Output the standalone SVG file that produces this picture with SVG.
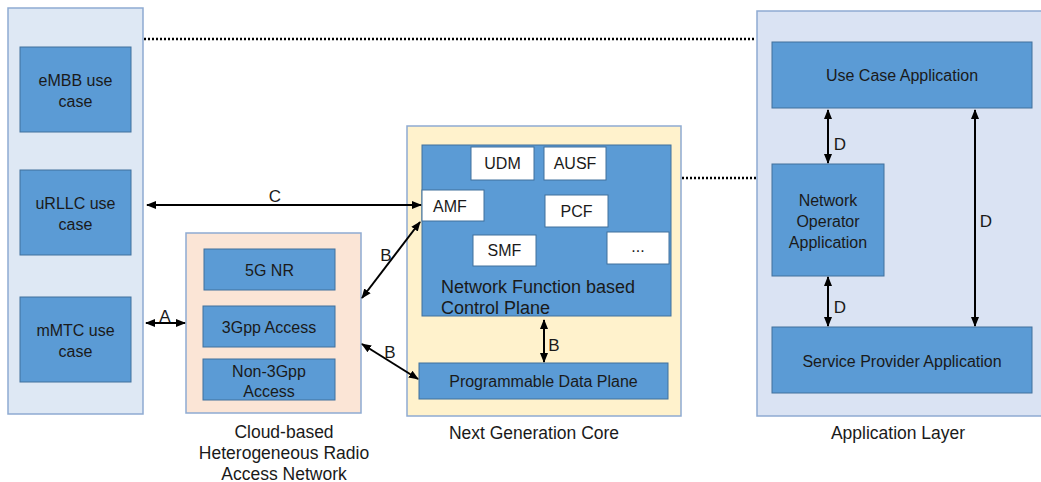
<svg xmlns="http://www.w3.org/2000/svg" width="1041" height="482" viewBox="0 0 1041 482">
<style>
text{font-family:"Liberation Sans",Arial,sans-serif;fill:#1a1a1a}
.panel{stroke:#8eaad2;stroke-width:1.5}
.box{fill:#5b9bd5;stroke:#41719c;stroke-width:1}
.wbox{fill:#ffffff;stroke:#41719c;stroke-width:1}
.bt{font-size:16px;text-anchor:middle}
.lab{font-size:17.5px;text-anchor:middle}
.ltr{font-size:17px;text-anchor:middle}
.conn{stroke:#000;stroke-width:2;fill:none;marker-start:url(#ah);marker-end:url(#ah)}
.dot{stroke:#000;stroke-width:2.5;stroke-dasharray:2 2;fill:none}
</style>
<defs>
<marker id="ah" viewBox="0 0 10 10" refX="9" refY="5" markerWidth="5" markerHeight="5" orient="auto-start-reverse" markerUnits="strokeWidth">
<path d="M0,1 L10,5 L0,9 z" fill="#000"/>
</marker>
</defs>
<g id="use-cases">
<rect class="panel" x="8" y="8" width="135" height="406" fill="#dee8f4"/>
<g id="embb"><rect class="box" x="20" y="47" width="111" height="85"/><text class="bt" x="75.5" y="86">eMBB use</text><text class="bt" x="75.5" y="107">case</text></g>
<g id="urllc"><rect class="box" x="20" y="170" width="111" height="85"/><text class="bt" x="75.5" y="209">uRLLC use</text><text class="bt" x="75.5" y="230">case</text></g>
<g id="mmtc"><rect class="box" x="20" y="297" width="111" height="85"/><text class="bt" x="75.5" y="336">mMTC use</text><text class="bt" x="75.5" y="357">case</text></g>
</g>
<g id="ran">
<rect class="panel" x="186" y="233" width="175" height="180" fill="#fbe5d6"/>
<g id="nr"><rect class="box" x="204" y="249" width="131" height="41"/><text class="bt" x="269.5" y="276">5G NR</text></g>
<g id="3gpp"><rect class="box" x="203" y="306" width="132" height="41"/><text class="bt" x="269" y="333">3Gpp Access</text></g>
<g id="non3gpp"><rect class="box" x="203" y="359" width="132" height="41"/><text class="bt" x="269" y="377">Non-3Gpp</text><text class="bt" x="269" y="397">Access</text></g>
<text class="lab" x="284" y="438">Cloud-based</text>
<text class="lab" x="284" y="459">Heterogeneous Radio</text>
<text class="lab" x="284" y="480">Access Network</text>
</g>
<g id="core">
<rect class="panel" x="407" y="126" width="274" height="290" fill="#fff2cc"/>
<g id="cp"><rect class="box" x="422" y="145" width="249" height="171"/>
<text x="441" y="293" font-size="18">Network Function based</text>
<text x="441" y="314" font-size="18">Control Plane</text></g>
<g id="udm"><rect class="wbox" x="471" y="147" width="63" height="33"/><text class="bt" x="502.5" y="169">UDM</text></g>
<g id="ausf"><rect class="wbox" x="544" y="147" width="62" height="33"/><text class="bt" x="575" y="169">AUSF</text></g>
<g id="amf"><rect class="wbox" x="422" y="190" width="62" height="31"/><text class="bt" x="450" y="212">AMF</text></g>
<g id="pcf"><rect class="wbox" x="545" y="195" width="63" height="32"/><text class="bt" x="576.5" y="217">PCF</text></g>
<g id="smf"><rect class="wbox" x="473" y="235" width="63" height="31"/><text class="bt" x="504.5" y="256">SMF</text></g>
<g id="more"><rect class="wbox" x="607" y="232" width="62" height="32"/><text class="bt" x="638" y="252">...</text></g>
<g id="dp"><rect class="box" x="419" y="363" width="249" height="36"/><text class="bt" x="543.5" y="387">Programmable Data Plane</text></g>
<text class="lab" x="534" y="439">Next Generation Core</text>
</g>
<g id="app">
<rect class="panel" x="757" y="11" width="290" height="405" fill="#dae3f3"/>
<g id="uca"><rect class="box" x="772" y="42" width="260" height="66"/><text class="bt" x="902" y="81">Use Case Application</text></g>
<g id="noa"><rect class="box" x="772" y="164" width="112" height="112"/><text class="bt" x="828" y="206">Network</text><text class="bt" x="828" y="227">Operator</text><text class="bt" x="828" y="248">Application</text></g>
<g id="spa"><rect class="box" x="772" y="327" width="260" height="66"/><text class="bt" x="902" y="367">Service Provider Application</text></g>
<text class="lab" x="898" y="439">Application Layer</text>
</g>
<g id="connectors">
<path class="dot" d="M144,39 H756"/>
<path class="dot" d="M682,178 H756"/>
<path class="conn" d="M147,205 H421"/>
<text class="ltr" x="275" y="202">C</text>
<path class="conn" d="M146,323 H185"/>
<text class="ltr" x="165" y="322">A</text>
<path class="conn" d="M362,298 L420,222"/>
<text class="ltr" x="386" y="261">B</text>
<path class="conn" d="M362,344 L418,379"/>
<text class="ltr" x="390" y="358">B</text>
<path class="conn" d="M544,320 V362"/>
<text class="ltr" x="554" y="351">B</text>
<path class="conn" d="M828,110 V163"/>
<text class="ltr" x="840" y="150">D</text>
<path class="conn" d="M828,277 V326"/>
<text class="ltr" x="840" y="313">D</text>
<path class="conn" d="M975,110 V326"/>
<text class="ltr" x="986" y="227">D</text>
</g>
</svg>
